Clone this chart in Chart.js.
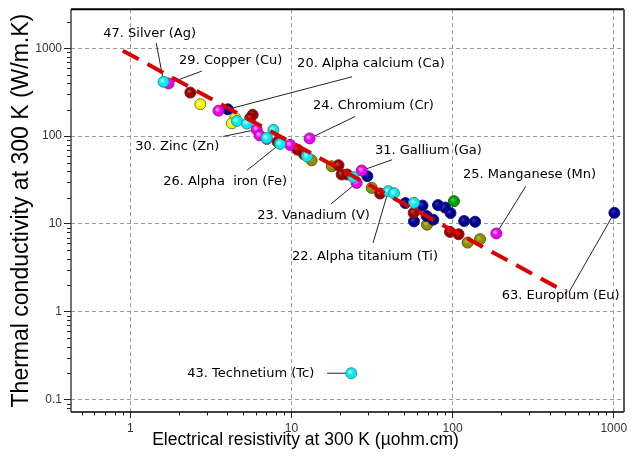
<!DOCTYPE html>
<html><head><meta charset="utf-8">
<script src="https://cdn.jsdelivr.net/npm/chart.js@4/dist/chart.umd.min.js"></script>
<style>html,body{margin:0;padding:0;background:#fff}canvas{display:block}</style>
</head><body>
<canvas id="c" width="632" height="461"></canvas>
<script>
// ---- text ----
const xTitle = 'Electrical resistivity at 300 K (µohm.cm)';
const yTitle = 'Thermal conductivity at 300 K (W/m.K)';
const xTickLabels = [1, 10, 100, 1000];
const yTickLabels = [0.1, 1, 10, 100, 1000];

// ---- data: resistivity (µohm.cm) and thermal conductivity (W/m.K), by colour group ----
const cyanRes  = [1.61, 4.59, 5.29, 7.73, 7.02, 8.51, 12.5, 24.2, 39.9, 43.3, 57.6, 23.5];
const cyanCond = [416, 149, 139, 118, 95.4, 81.6, 58.9, 34.1, 23.6, 22.4, 17.4, 0.2];

const magentaRes  = [1.73, 3.53, 6.09, 6.35, 7.04, 9.81, 12.97, 27.3, 25.4, 187];
const magentaCond = [398, 195, 119, 102, 93, 79.5, 94.2, 40.6, 29.4, 7.81];

const darkRedRes  = [2.36, 5.75, 5.55, 8.21, 10.9, 12.0, 19.6, 20.5, 22.2, 35.5, 57.4, 96.4, 109];
const darkRedCond = [313, 175, 160, 86, 70.2, 62, 46.6, 36.6, 36.6, 22.2, 13.4, 8.12, 7.64];

const yellowRes  = [2.72, 4.48, 4.27];
const yellowCond = [231, 161, 140];

const blueRes  = [4.03, 29.6, 51.0, 65.1, 81.2, 89.7, 97.1, 57.6, 69.1, 75.9, 118, 138, 1009];
const blueCond = [202, 35.0, 17.3, 16.2, 16.4, 15.4, 13.3, 10.7, 12.3, 11.2, 10.8, 10.6, 13.4];

const oliveRes  = [13.35, 17.8, 31.5, 69.4, 124, 148];
const oliveCond = [53.1, 45.4, 25.8, 9.82, 6.14, 6.71];

const greenRes  = [102];
const greenCond = [18.2];

// trend line (end points)
const trendRes  = [0.9, 512];
const trendCond = [939, 1.65];

// ---- annotations (element labels) ----
const labelTexts = ['47. Silver (Ag)', '29. Copper (Cu)', '20. Alpha calcium (Ca)', '24. Chromium (Cr)',
  '30. Zinc (Zn)', '26. Alpha  iron (Fe)', '31. Gallium (Ga)', '25. Manganese (Mn)', '23. Vanadium (V)',
  '22. Alpha titanium (Ti)', '63. Europium (Eu)', '43. Technetium (Tc)'];
const labelRes  = [0.68, 2.01, 10.85, 13.6, 1.074, 1.60, 33.0, 116, 6.13, 10.1, 202, 2.26];
const labelCond = [1456, 720, 666, 223, 76.4, 30.7, 68.9, 36.8, 12.3, 4.23, 1.53, 0.2];
const leaderFromRes  = [1.45, 2.78, 23.8, 24.8, 3.77, 5.31, 42.1, 285, 17.6, 32.1, 527, 16.65];
const leaderFromCond = [1151, 550, 474, 167, 99.2, 40.9, 53.8, 26.9, 16.9, 6.09, 1.67, 0.2];
const leaderToRes  = [1.61, 1.73, 4.03, 12.97, 6.09, 8.51, 27.3, 187, 25.4, 39.9, 1009, 23.5];
const leaderToCond = [416, 398, 202, 94.2, 119, 81.6, 40.6, 7.81, 29.4, 23.6, 13.4, 0.2];

function pts(xs, ys) { return xs.map((x, i) => ({x: x, y: ys[i]})); }
function logTicks(min, max) {
  const t = [];
  for (let e = -2; e <= 4; e++) for (let m = 1; m <= 9; m++) {
    const v = +(m * Math.pow(10, e)).toPrecision(3);
    if (v >= min && v <= max) t.push({value: v});
  }
  return t;
}
const isMajorX = v => xTickLabels.includes(v);
const isMajorY = v => yTickLabels.includes(v);

// [base colour, rim colour, highlight colour]
const groupDefs = [
  [['#00eef0', '#3a8a8c', '#b0ffff'], cyanRes, cyanCond],
  [['#f000f0', '#8a208a', '#ff9cff'], magentaRes, magentaCond],
  [['#980000', '#7a2020', '#c04040'], darkRedRes, darkRedCond],
  [['#f4f400', '#808020', '#ffffa0'], yellowRes, yellowCond],
  [['#000090', '#202060', '#3030c0'], blueRes, blueCond],
  [['#8e8e00', '#5a5a10', '#b8b840'], oliveRes, oliveCond],
  [['#00a000', '#106010', '#40d040'], greenRes, greenCond]
];

function shade(cols) {
  return ctx => {
    const chart = ctx.chart;
    if (!ctx.raw || !chart.scales.x) return cols[0];
    const px = chart.scales.x.getPixelForValue(ctx.raw.x);
    const py = chart.scales.y.getPixelForValue(ctx.raw.y);
    if (!isFinite(px) || !isFinite(py)) return cols[0];
    const g = chart.ctx.createRadialGradient(px - 1.5, py - 1.5, 0.5, px, py, 6);
    g.addColorStop(0, cols[2]);
    g.addColorStop(0.45, cols[0]);
    g.addColorStop(1, cols[0]);
    return g;
  };
}

const datasets = [{
  type: 'line', data: pts(trendRes, trendCond), borderColor: '#dd0000', borderWidth: 4,
  borderDash: [18, 10], pointRadius: 0, fill: false, order: -1
}];
groupDefs.forEach(([cols, xs, ys]) => datasets.push({
  type: 'scatter', data: pts(xs, ys), backgroundColor: shade(cols), borderColor: cols[1],
  borderWidth: 1, pointRadius: 5.5, order: 1
}));

const annotPlugin = {
  id: 'annot',
  beforeDatasetsDraw(chart) {
    const {ctx, scales: {x, y}} = chart;
    ctx.save();
    ctx.strokeStyle = '#222'; ctx.lineWidth = 1;
    for (let i = 0; i < labelTexts.length; i++) {
      ctx.beginPath();
      ctx.moveTo(x.getPixelForValue(leaderFromRes[i]), y.getPixelForValue(leaderFromCond[i]));
      ctx.lineTo(x.getPixelForValue(leaderToRes[i]), y.getPixelForValue(leaderToCond[i]));
      ctx.stroke();
    }
    ctx.restore();
  },
  afterDatasetsDraw(chart) {
    const {ctx, scales: {x, y}} = chart;
    ctx.save();
    ctx.font = '13px "DejaVu Sans"'; ctx.fillStyle = '#000';
    ctx.textAlign = 'left'; ctx.textBaseline = 'middle';
    for (let i = 0; i < labelTexts.length; i++) {
      ctx.fillText(labelTexts[i], x.getPixelForValue(labelRes[i]), y.getPixelForValue(labelCond[i]));
    }
    ctx.restore();
  },
  afterDraw(chart) {
    const {ctx, chartArea: a, scales: {x, y}} = chart;
    ctx.save();
    // minor tick marks
    ctx.strokeStyle = '#222'; ctx.lineWidth = 1;
    x.ticks.forEach(t => { if (!isMajorX(t.value)) { const px = Math.round(x.getPixelForValue(t.value)) + 0.5;
      ctx.beginPath(); ctx.moveTo(px, a.bottom); ctx.lineTo(px, a.bottom + 3.5); ctx.stroke(); } });
    y.ticks.forEach(t => { if (!isMajorY(t.value)) { const py = Math.round(y.getPixelForValue(t.value)) + 0.5;
      ctx.beginPath(); ctx.moveTo(a.left, py); ctx.lineTo(a.left - 4, py); ctx.stroke(); } });
    // frame
    ctx.strokeStyle = '#444'; ctx.lineWidth = 1.5;
    ctx.beginPath(); ctx.moveTo(a.left, a.top); ctx.lineTo(a.left, a.bottom); ctx.stroke();
    ctx.strokeStyle = '#000'; ctx.lineWidth = 1.5;
    ctx.beginPath(); ctx.moveTo(a.left, a.bottom); ctx.lineTo(a.right, a.bottom); ctx.stroke();
    ctx.strokeStyle = '#000'; ctx.lineWidth = 2;
    ctx.beginPath(); ctx.moveTo(a.left, a.top); ctx.lineTo(a.right, a.top); ctx.stroke();
    ctx.strokeStyle = '#555'; ctx.lineWidth = 2;
    ctx.beginPath(); ctx.moveTo(a.right, a.top); ctx.lineTo(a.right, a.bottom); ctx.stroke();
    // x title
    ctx.font = '17.5px "Liberation Sans", Arial, sans-serif'; ctx.fillStyle = '#000';
    ctx.textAlign = 'center'; ctx.textBaseline = 'middle';
    ctx.fillText(xTitle, 305.5, 440);
    ctx.restore();
  }
};

new Chart(document.getElementById('c'), {
  data: {datasets},
  options: {
    responsive: false, animation: false,
    layout: {padding: {top: 7, right: 8, left: 0, bottom: 0}},
    plugins: {legend: {display: false}, tooltip: {enabled: false}},
    scales: {
      x: {
        type: 'logarithmic', min: 0.429, max: 1158, position: 'bottom',
        afterBuildTicks: s => { s.ticks = logTicks(s.min, s.max); },
        afterFit: s => { s.height = 49; },
        border: {display: false, dash: [4, 3]},
        grid: {
          color: c => (c.tick && isMajorX(c.tick.value)) ? '#9a9a9a' : 'rgba(0,0,0,0)',
          tickColor: c => (c.tick && isMajorX(c.tick.value)) ? '#222' : 'rgba(0,0,0,0)',
          tickBorderDash: [], tickLength: 6, lineWidth: 1
        },
        ticks: {
          autoSkip: false, maxRotation: 0, padding: 3,
          font: {family: '"Liberation Sans", Arial, sans-serif', size: 12}, color: '#333',
          callback: v => isMajorX(v) ? String(v) : ''
        },
        title: {display: false, text: xTitle}
      },
      y: {
        type: 'logarithmic', min: 0.0724, max: 2786, position: 'left',
        afterBuildTicks: s => { s.ticks = logTicks(s.min, s.max); },
        afterFit: s => { s.width = 71; },
        border: {display: false, dash: [4, 3]},
        grid: {
          color: c => (c.tick && isMajorY(c.tick.value)) ? '#9a9a9a' : 'rgba(0,0,0,0)',
          tickColor: c => (c.tick && isMajorY(c.tick.value)) ? '#222' : 'rgba(0,0,0,0)',
          tickBorderDash: [], tickLength: 7, lineWidth: 1
        },
        ticks: {
          autoSkip: false, padding: 2,
          font: {family: '"Liberation Sans", Arial, sans-serif', size: 12}, color: '#333',
          callback: v => isMajorY(v) ? String(v) : ''
        },
        title: {display: true, text: yTitle, color: '#000', padding: {top: 8, bottom: 0},
          font: {family: '"Liberation Sans", Arial, sans-serif', size: 23}}
      }
    }
  },
  plugins: [annotPlugin]
});
</script>
</body></html>
